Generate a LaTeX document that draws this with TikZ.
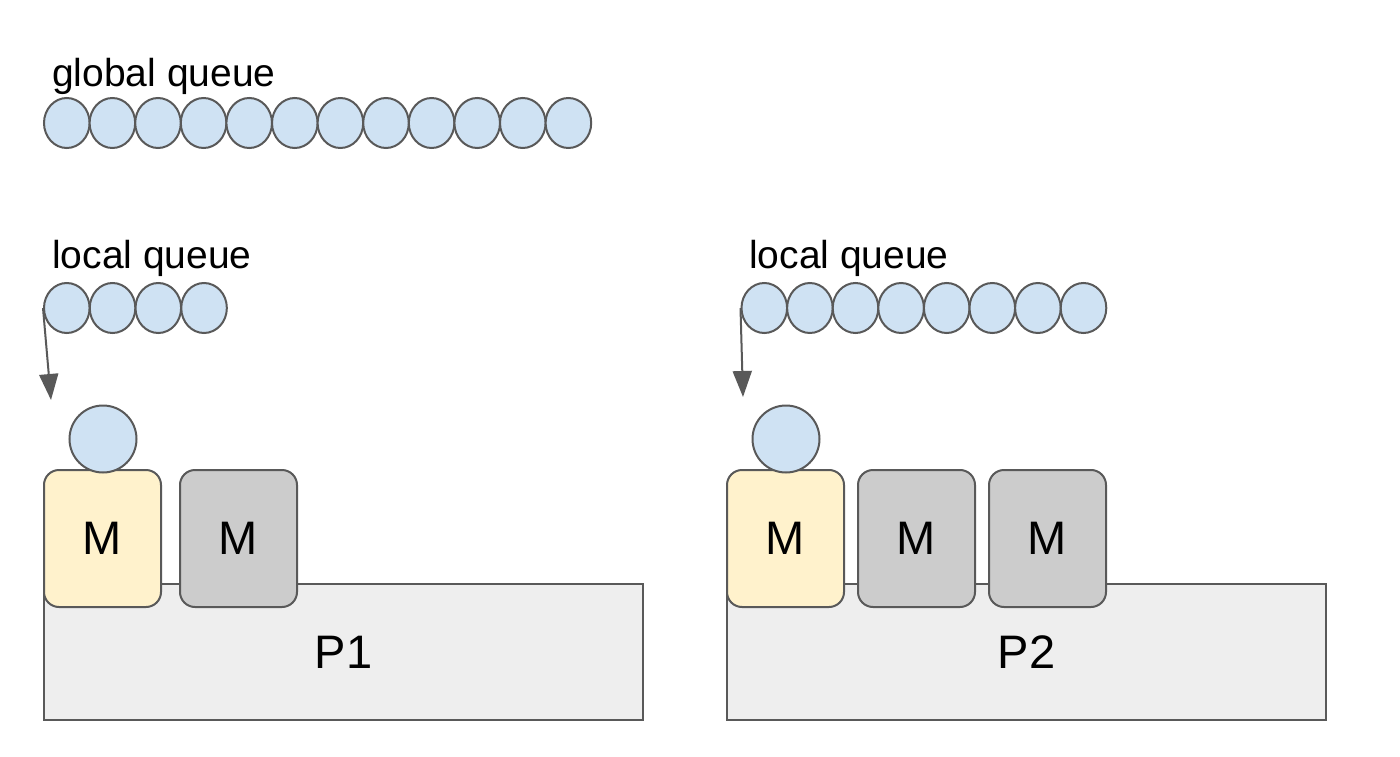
\documentclass[tikz,border=0pt]{standalone}
\usepackage{fontspec}
\setmainfont{Liberation Sans}
\usetikzlibrary{shapes.geometric,arrows.meta}
\definecolor{edge}{HTML}{595959}
\definecolor{gfill}{HTML}{CFE2F3}
\definecolor{yfill}{HTML}{FFF2CC}
\definecolor{mfill}{HTML}{CCCCCC}
\definecolor{pfill}{HTML}{EEEEEE}
\tikzset{
  gor/.style={ellipse,draw=edge,fill=gfill,line width=2pt,minimum width=45.6pt,minimum height=50pt,inner sep=0pt},
  gbig/.style={circle,draw=edge,fill=gfill,line width=2pt,minimum size=67pt,inner sep=0pt},
  mbox/.style={draw=edge,line width=2pt,rounded corners=15pt,minimum width=117pt,minimum height=137pt,inner sep=0pt,font=\fontsize{47}{50}\selectfont},
  mrun/.style={mbox,fill=yfill},
  midle/.style={mbox,fill=mfill},
  pbox/.style={draw=edge,fill=pfill,line width=2pt,minimum width=599pt,minimum height=136pt,inner sep=0pt,font=\fontsize{47}{50}\selectfont},
  lbl/.style={anchor=base west,inner sep=0pt,font=\fontsize{39}{44}\selectfont},
  pull/.style={draw=edge,line width=2pt,-{Triangle[length=26pt,width=19pt]}}
}
\begin{document}
\begin{tikzpicture}[x=1pt,y=-1pt]
\useasboundingbox (0,0) rectangle (1400,757);
\fill[white] (0,0) rectangle (1400,757);
% labels
\node[lbl] (gl) at (52,87) {global queue};
\node[lbl] (l1) at (52,268) {local queue};
\node[lbl] (l2) at (749,268) {local queue};
% global queue
\foreach \i in {0,...,11} {
  \node[gor] (g\i) at ({44+22.8+45.6*\i},123) {};
}
% P rectangles
\node[pbox] (p1) at (343.5,652) {P1};
\node[pbox] (p2) at (1026.5,652) {P2};
% M boxes
\node[mrun] (m11) at (102.5,538.5) {M};
\node[midle] (m12) at (238.5,538.5) {M};
\node[mrun] (m21) at (785.5,538.5) {M};
\node[midle] (m22) at (916.5,538.5) {M};
\node[midle] (m23) at (1047.5,538.5) {M};
% running goroutines
\node[gbig] (r1) at (103,439) {};
\node[gbig] (r2) at (786,439) {};
% local queue P1
\foreach \i in {0,...,3} {
  \node[gor] (a\i) at ({44+22.8+45.75*\i},308) {};
}
% local queue P2
\foreach \i in {0,...,7} {
  \node[gor] (b\i) at ({741.5+22.8+45.6*\i},308) {};
}
\coordinate (t1) at (51,400);
\coordinate (t2) at (743,397);
\draw[pull] (a0.west) -- (t1);
\draw[pull] (b0.west) -- (t2);
\end{tikzpicture}
\end{document}
